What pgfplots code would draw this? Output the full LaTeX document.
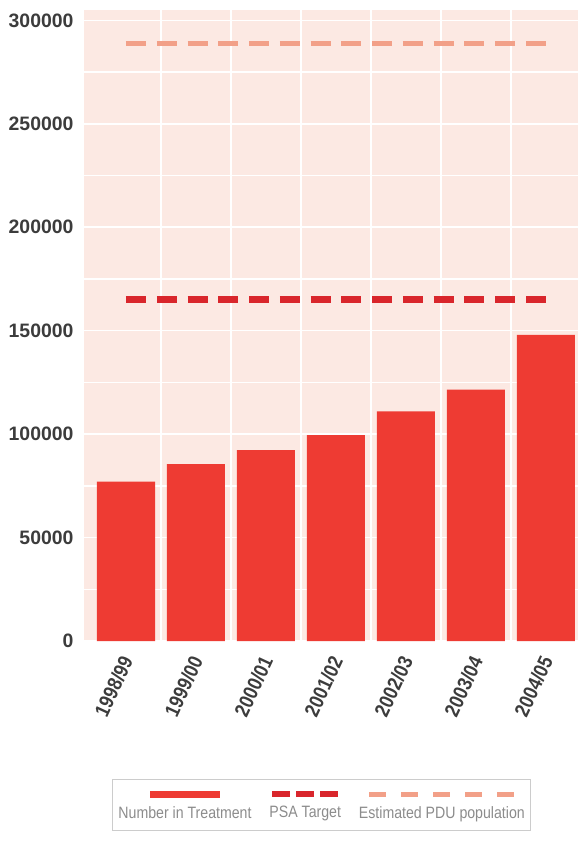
\documentclass[border=0pt]{standalone}
\usepackage{fontspec}
\setmainfont{Liberation Sans}
\newfontfamily\condfont[FakeStretch=0.86]{Liberation Sans}
\usepackage{pgfplots}
\pgfplotsset{compat=1.18}
\definecolor{barred}{HTML}{EE3B33}
\definecolor{psared}{HTML}{D9262C}
\definecolor{pdusalmon}{HTML}{F2A088}
\definecolor{bgpink}{HTML}{FCE9E3}
\definecolor{ticktext}{HTML}{3C3C3C}
\definecolor{legtext}{HTML}{8C8C8C}
\begin{document}
\begin{tikzpicture}[x=1bp,y=1bp]
\useasboundingbox (-84,-207) rectangle (500,641);
\begin{axis}[at={(0,0)}, anchor=south west, scale only axis,
  width=494bp, height=631bp,
  xmin=-0.6, xmax=6.46, ymin=0, ymax=305000,
  axis background/.style={fill=bgpink},
  axis line style={draw=none},
  major tick style={draw=none}, minor tick style={draw=none},
  xtick={0,...,6},
  xticklabels={1998/99,1999/00,2000/01,2001/02,2002/03,2003/04,2004/05},
  extra x ticks={0.5,1.5,2.5,3.5,4.5,5.5},
  extra x tick labels={},
  extra x tick style={grid=major},
  ytick={0,50000,...,300000},
  minor ytick={25000,75000,...,275000},
  ymajorgrids, yminorgrids,
  grid style={white, line width=1.5bp},
  major grid style={white, line width=1.5bp},
  minor grid style={white, line width=1.5bp},
  scaled y ticks=false,
  yticklabel style={/pgf/number format/fixed, /pgf/number format/1000 sep={},
    /pgf/number format/assume math mode=true,
    font=\bfseries\fontsize{19.5}{19.5}\selectfont, text=ticktext, xshift=-7bp},
  xticklabel style={rotate=65, anchor=east, yshift=-8bp, xshift=-11bp,
    font=\condfont\bfseries\fontsize{20.5}{20.5}\selectfont, text=ticktext},
  legend style={at={(0.481,-0.26)}, anchor=center, draw=gray!40, line width=1pt,
    fill=white, inner xsep=4bp, inner ysep=9bp, row sep=3bp,
    font=\condfont\fontsize{16.5}{16.5}\selectfont, text=legtext,
    cells={anchor=center},
    /tikz/every even column/.append style={column sep=14bp}},
  legend columns=3,
]
\addplot[ybar, bar width=0.83, fill=barred, draw=none, forget plot]
  coordinates {(0,77000) (1,85500) (2,92300) (3,99500) (4,111000) (5,121500) (6,148000)};
\addplot[psared, line width=7bp, dash pattern=on 20bp off 10.77bp, forget plot]
  coordinates {(0,165000) (6,165000)};
\addplot[pdusalmon, line width=5bp, dash pattern=on 20bp off 10.77bp, forget plot]
  coordinates {(0,289000) (6,289000)};
\addlegendimage{empty legend}
\addlegendentry{\textcolor{barred}{\rule{70bp}{7bp}}}
\addlegendimage{empty legend}
\addlegendentry{\textcolor{psared}{\rule{18bp}{6bp}\hspace{6bp}\rule{18bp}{6bp}\hspace{6bp}\rule{18bp}{6bp}}}
\addlegendimage{empty legend}
\addlegendentry{\textcolor{pdusalmon}{\rule{17bp}{5bp}\hspace{15bp}\rule{17bp}{5bp}\hspace{15bp}\rule{17bp}{5bp}\hspace{15bp}\rule{17bp}{5bp}\hspace{15bp}\rule{17bp}{5bp}}}
\addlegendimage{empty legend}
\addlegendentry{Number in Treatment}
\addlegendimage{empty legend}
\addlegendentry{PSA Target}
\addlegendimage{empty legend}
\addlegendentry{Estimated PDU population}
\end{axis}
\end{tikzpicture}
\end{document}
